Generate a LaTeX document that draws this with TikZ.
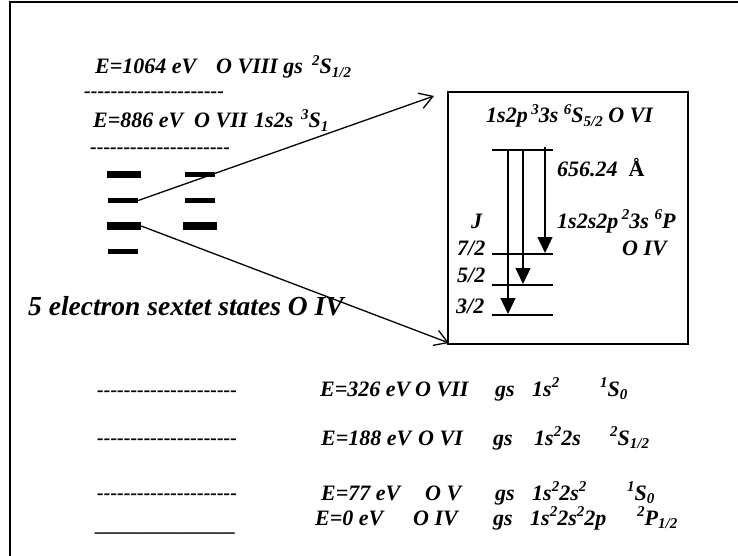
\documentclass[tikz,border=0pt]{standalone}
\usepackage{fontspec}
\setmainfont{Liberation Serif}
\usetikzlibrary{arrows.meta}
\newcommand\up[1]{\raisebox{0.40em}{\fontsize{15}{15}\selectfont #1}}
\newcommand\dn[1]{\raisebox{-0.18em}{\fontsize{15}{15}\selectfont #1}}
\newcommand\hy{-\kern0pt}
\newcommand\dashrow{\hy\hy\hy\hy\hy\hy\hy\hy\hy\hy\hy\hy\hy\hy\hy\hy\hy\hy\hy\hy\hy}
\newcommand\us{\_\kern0pt}
\newcommand\usrow{\us\us\us\us\us\us\us\us\us\us\us\us\us\us}
\tikzset{
  txt/.style={font=\fontsize{22}{26}\selectfont\bfseries\itshape, inner sep=0pt, anchor=base west},
  dashtxt/.style={font=\fontsize{20}{24}\selectfont\bfseries\itshape, inner sep=0pt, anchor=base west},
  bigtxt/.style={font=\fontsize{27.5}{30}\selectfont\bfseries\itshape, inner sep=0pt, anchor=base west},
  thickbar/.style={fill=black, inner sep=0pt, minimum width=34pt, minimum height=7.5pt},
  thinbar/.style={fill=black, inner sep=0pt, minimum width=30pt, minimum height=5pt},
  conn/.style={line width=1.3pt, -{Straight Barb[length=13pt,width=16pt,line width=1.3pt]}},
  lvl/.style={line width=1.3pt},
  trans/.style={line width=1.3pt, -{Triangle[length=16pt,width=15pt]}},
}
\begin{document}
\begin{tikzpicture}[x=1pt,y=-1pt]
\useasboundingbox (0,0) rectangle (738,556);
% outer frame
\draw[line width=1.6pt] (10,557) -- (10,2) -- (739,2);

% top levels
\node[txt] (e1064) at (95,74) {E=1064 eV};
\node[txt] (o8) at (216,74) {O VIII gs};
\node[txt] (s8) at (312,74) {\up{2}S\dn{1/2}};
\node[dashtxt] (d1) at (84,98) {\dashrow};
\node[txt] (e886) at (93,128) {E=886 eV};
\node[txt] (o7) at (194,128) {O VII};
\node[txt] (c7) at (254,128) {1s2s};
\node[txt] (s7) at (301,128) {\up{3}S\dn{1}};
\node[dashtxt] (d2) at (90,154) {\dashrow};

% sextet bars
\node[thickbar] (l1) at (124,174.5) {};
\node[thinbar]  (l2) at (123,200.5) {};
\node[thickbar] (l3) at (124,226) {};
\node[thinbar]  (l4) at (123,251) {};
\node[thinbar]  (r1) at (200,174.5) {};
\node[thinbar]  (r2) at (200,200.5) {};
\node[thickbar] (r3) at (200,226) {};

\node[bigtxt] (sext) at (28,315) {5 electron sextet states O IV};

% box
\draw[line width=1.5pt] (448,92) rectangle (688,344);
\coordinate (tipA) at (434,96);
\coordinate (tipB) at (449,343);
\draw[conn] (l2.east) -- (tipA);
\draw[conn] (l3.east) -- (tipB);

\node[txt] (cfgU) at (486,123) {1s2p\,\up{3}3s \up{6}S\dn{5/2} O VI};
\node[txt] (wl) at (557,177) {656.24 \ {\upshape Å}};
\node[txt] (J) at (471,228) {J};
\node[txt] (cfgL) at (557,228) {1s2s2p\,\up{2}3s \up{6}P};
\node[txt] (o4b) at (622,255) {O IV};
\node[txt] (j72) at (457,255) {7/2};
\node[txt] (j52) at (457,282) {5/2};
\node[txt] (j32) at (456,313) {3/2};

\coordinate (u1) at (492,150);
\coordinate (u2) at (553,150);
\coordinate (a1) at (492,254);
\coordinate (a2) at (553,254);
\coordinate (b1) at (492,285);
\coordinate (b2) at (553,285);
\coordinate (c1) at (492,315);
\coordinate (c2) at (553,315);
\draw[lvl] (u1) -- (u2);
\draw[lvl] (a1) -- (a2);
\draw[lvl] (b1) -- (b2);
\draw[lvl] (c1) -- (c2);
\coordinate (s1) at (508,150);
\coordinate (f1) at (508,314);
\coordinate (s2) at (523,150);
\coordinate (f2) at (523,284);
\coordinate (s3) at (545,147);
\coordinate (f3) at (545,253);
\draw[trans] (s1) -- (f1);
\draw[trans] (s2) -- (f2);
\draw[trans] (s3) -- (f3);

% bottom ground states
\node[dashtxt] (d3) at (97,396) {\dashrow};
\node[txt] (e326) at (320,396) {E=326 eV};
\node[txt] (o7g) at (415,396) {O VII};
\node[txt] (gs1) at (495,396) {gs};
\node[txt] (k1) at (532,396) {1s\up{2}};
\node[txt] (t1) at (600,396) {\up{1}S\dn{0}};

\node[dashtxt] (d4) at (97,444) {\dashrow};
\node[txt] (e188) at (321,445) {E=188 eV};
\node[txt] (o6g) at (418,445) {O VI};
\node[txt] (gs2) at (493,445) {gs};
\node[txt] (k2) at (534,445) {1s\up{2}2s};
\node[txt] (t2) at (610,445) {\up{2}S\dn{1/2}};

\node[dashtxt] (d5) at (97,499) {\dashrow};
\node[txt] (e77) at (321,500) {E=77 eV};
\node[txt] (o5g) at (425,500) {O V};
\node[txt] (gs3) at (495,500) {gs};
\node[txt] (k3) at (532,500) {1s\up{2}2s\up{2}};
\node[txt] (t3) at (627,500) {\up{1}S\dn{0}};

\node[dashtxt] (d6) at (96,531) {\usrow};
\node[txt] (e0) at (315,525) {E=0 eV};
\node[txt] (o4g) at (413,525) {O IV};
\node[txt] (gs4) at (493,525) {gs};
\node[txt] (k4) at (530,525) {1s\up{2}2s\up{2}2p};
\node[txt] (t4) at (637,525) {\up{2}P\dn{1/2}};
\end{tikzpicture}
\end{document}
